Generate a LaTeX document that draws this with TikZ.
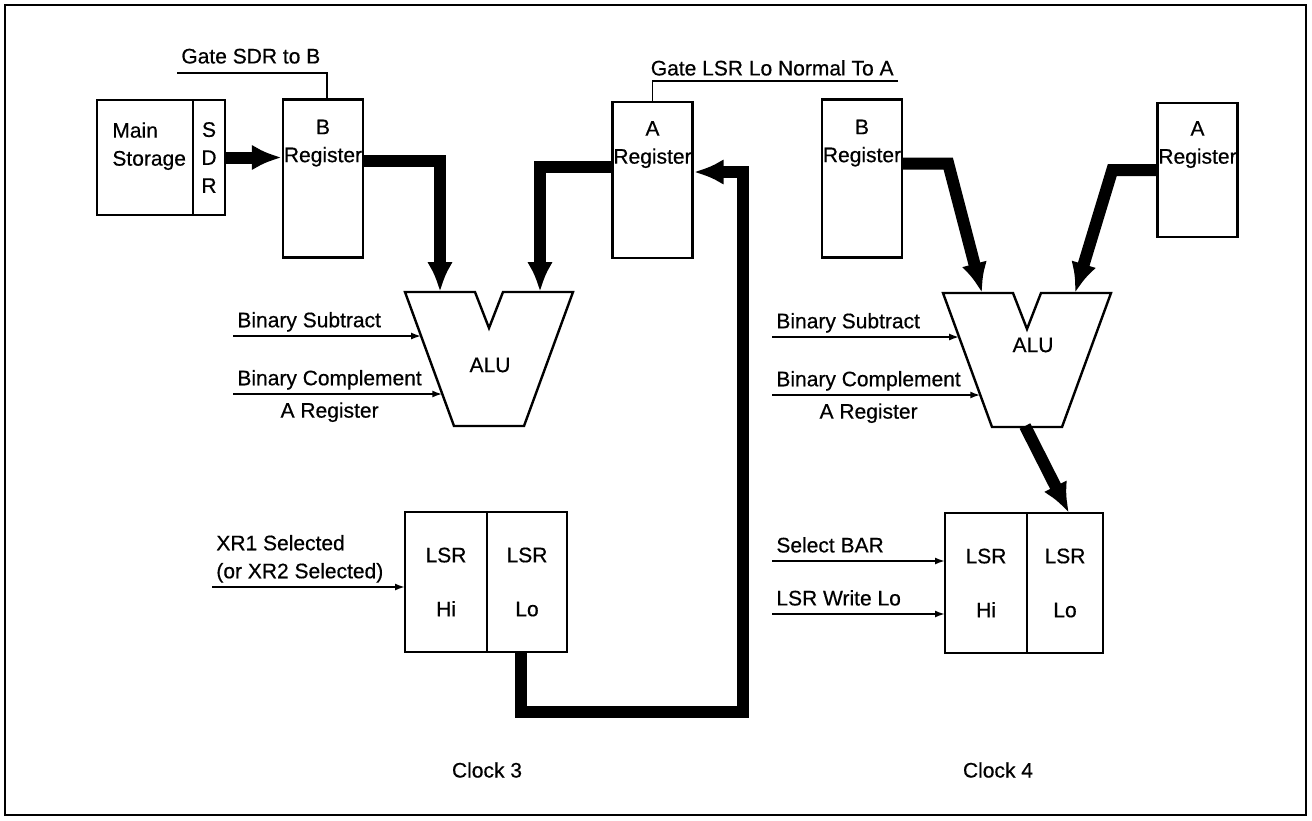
\documentclass[tikz,border=0pt]{standalone}
\usepackage{fontspec}
\setmainfont{Liberation Sans}[FakeBold=0.5]
\usepackage{tikz}
\usetikzlibrary{arrows.meta,positioning,calc}
\newcommand\lbfont{\fontsize{10.5}{14}\selectfont}
\tikzset{
  reg/.style={draw,line width=1.2pt,inner sep=0pt,minimum width=40pt,minimum height=79pt},
  half/.style={draw,line width=1.2pt,inner sep=0pt,outer sep=0pt,minimum width=40pt,
    minimum height=70pt,align=center,font=\lbfont},
  lbl/.style={inner sep=2pt,font=\lbfont},
  alu/.style={draw,line width=1.2pt,line join=miter},
  bus/.style={line width=6pt,-{Latex[length=15pt,width=13pt]}},
  wire/.style={line width=0.9pt},
  ctl/.style={wire,-{Latex[length=5pt,width=3.5pt]}}
}

\begin{document}
\begin{tikzpicture}[x=0.5pt,y=-0.5pt]
\useasboundingbox (0,0) rectangle (1312,820);
\draw[line width=1pt] (5,5) rectangle (1306,815);

% clock 3
\node[reg,minimum width=48pt,minimum height=57.5pt,outer sep=0pt] (ms) at (145,157.5) {};
\node[reg,minimum width=16pt,minimum height=57.5pt,outer sep=0pt,align=center,font=\lbfont] (sdr) at (209,157.5) {S\\D\\R};
\node[lbl,anchor=north west,align=left] (mstxt) at ([xshift=5.5pt,yshift=-9pt]ms.north west) {Main\\Storage};
\node[reg] (breg3) at (323,178.5) {};
\node[lbl,align=center,below=8.5pt of breg3.north] (btxt3) {B\\Register};
\node[lbl,anchor=south west,inner ysep=4.5pt] (gsdr) at (177,73) {Gate SDR to B};
\node[reg,minimum height=78pt] (areg3) at (652.5,180) {};
\node[lbl,align=center,below=8pt of areg3.north] (atxt3) {A\\Register};
\node[lbl,anchor=south east,inner ysep=2.5pt] (glsr) at (898,81) {Gate LSR Lo Normal To A};
\draw[wire] (gsdr.south west) -| ([xshift=2pt]breg3.north);
\draw[wire] (glsr.south east) -| (areg3.north);

\path (405,292) coordinate (alu3-tl) ++(70,0) coordinate (alu3-n1) ++(14,36) coordinate (alu3-nb)
  ++(14,-36) coordinate (alu3-n2) ++(70,0) coordinate (alu3-tr) ++(-49,134) coordinate (alu3-br)
  ++(-70,0) coordinate (alu3-bl);
\draw[alu] (alu3-tl) -- (alu3-n1) -- (alu3-nb) -- (alu3-n2) -- (alu3-tr) -- (alu3-br) -- (alu3-bl) -- cycle;
\node[lbl] (alu3) at (490,365) {ALU};
\coordinate (alu3-b) at (440,292);
\coordinate (alu3-a) at (540,292);

\node[lbl,anchor=south west] (bs3) at (233,336) {Binary Subtract};
\node[lbl,anchor=south west] (bc3) at (233,394) {Binary Complement};
\node[lbl,below=2pt of bc3] (ar3) {A Register};
\draw[ctl] (bs3.south west) -- (intersection of bs3.south west--bs3.south east and alu3-tl--alu3-bl);
\draw[ctl] (bc3.south west) -- (intersection of bc3.south west--bc3.south east and alu3-tl--alu3-bl);

\node[half,minimum width=41pt] (lsrhi3) at (446,582) {LSR\\[13pt]Hi};
\node[half,right=0pt of lsrhi3] (lsrlo3) {LSR\\[13pt]Lo};
\node[lbl,anchor=south west,align=left] (xr3) at (212,587) {XR1 Selected\\(or XR2 Selected)};
\draw[ctl] (xr3.south west) -- (xr3.south west -| lsrhi3.west);

\draw[bus] (sdr.east) -- (sdr.east -| breg3.west);
\draw[bus] ([yshift=9pt]breg3.east) -| (alu3-b);
\draw[bus] ([yshift=6.5pt]areg3.west) -| (alu3-a);
\coordinate (ret3) at (743,712);
\draw[bus] ([xshift=-3pt]lsrlo3.south) |- (ret3) |- ([yshift=4pt]areg3.east);
\node[lbl] (clk3) at (487,770) {Clock 3};

% clock 4
\node[reg] (breg4) at (862,178.5) {};
\node[lbl,align=center,below=8.5pt of breg4.north] (btxt4) {B\\Register};
\node[reg,minimum height=67pt] (areg4) at (1197.5,170) {};
\node[lbl,align=center,below=7.5pt of areg4.north] (atxt4) {A\\Register};

\path (943,293) coordinate (alu4-tl) ++(70,0) coordinate (alu4-n1) ++(14,36) coordinate (alu4-nb)
  ++(14,-36) coordinate (alu4-n2) ++(70,0) coordinate (alu4-tr) ++(-49,134) coordinate (alu4-br)
  ++(-70,0) coordinate (alu4-bl);
\draw[alu] (alu4-tl) -- (alu4-n1) -- (alu4-nb) -- (alu4-n2) -- (alu4-tr) -- (alu4-br) -- (alu4-bl) -- cycle;
\node[lbl] (alu4) at (1033,345) {ALU};
\coordinate (alu4-b) at (982,293);
\coordinate (alu4-a) at (1075,293);
\coordinate (alu4-out) at (1025,426);

\node[lbl,anchor=south west] (bs4) at (772,337) {Binary Subtract};
\node[lbl,anchor=south west] (bc4) at (772,395) {Binary Complement};
\node[lbl,below=2pt of bc4] (ar4) {A Register};
\draw[ctl] (bs4.south west) -- (intersection of bs4.south west--bs4.south east and alu4-tl--alu4-bl);
\draw[ctl] (bc4.south west) -- (intersection of bc4.south west--bc4.south east and alu4-tl--alu4-bl);

\node[half,minimum width=41pt] (lsrhi4) at (986,583) {LSR\\[13pt]Hi};
\node[half,minimum width=38pt,right=0pt of lsrhi4] (lsrlo4) {LSR\\[13pt]Lo};
\node[lbl,anchor=south west,inner ysep=4pt] (sb4) at (772,561) {Select BAR};
\node[lbl,anchor=south west,inner ysep=4pt] (lw4) at (772,614) {LSR Write Lo};
\draw[ctl] (sb4.south west) -- (sb4.south west -| lsrhi4.west);
\draw[ctl] (lw4.south west) -- (lw4.south west -| lsrhi4.west);

\draw[bus] ([yshift=7.5pt]breg4.east) -- ++(45,0) -- (alu4-b);
\draw[bus] (areg4.west) -- ++(-44,0) -- (alu4-a);
\draw[bus] (alu4-out) -- ([xshift=2pt]lsrlo4.north);
\node[lbl] (clk4) at (998,770) {Clock 4};
\end{tikzpicture}
\end{document}
